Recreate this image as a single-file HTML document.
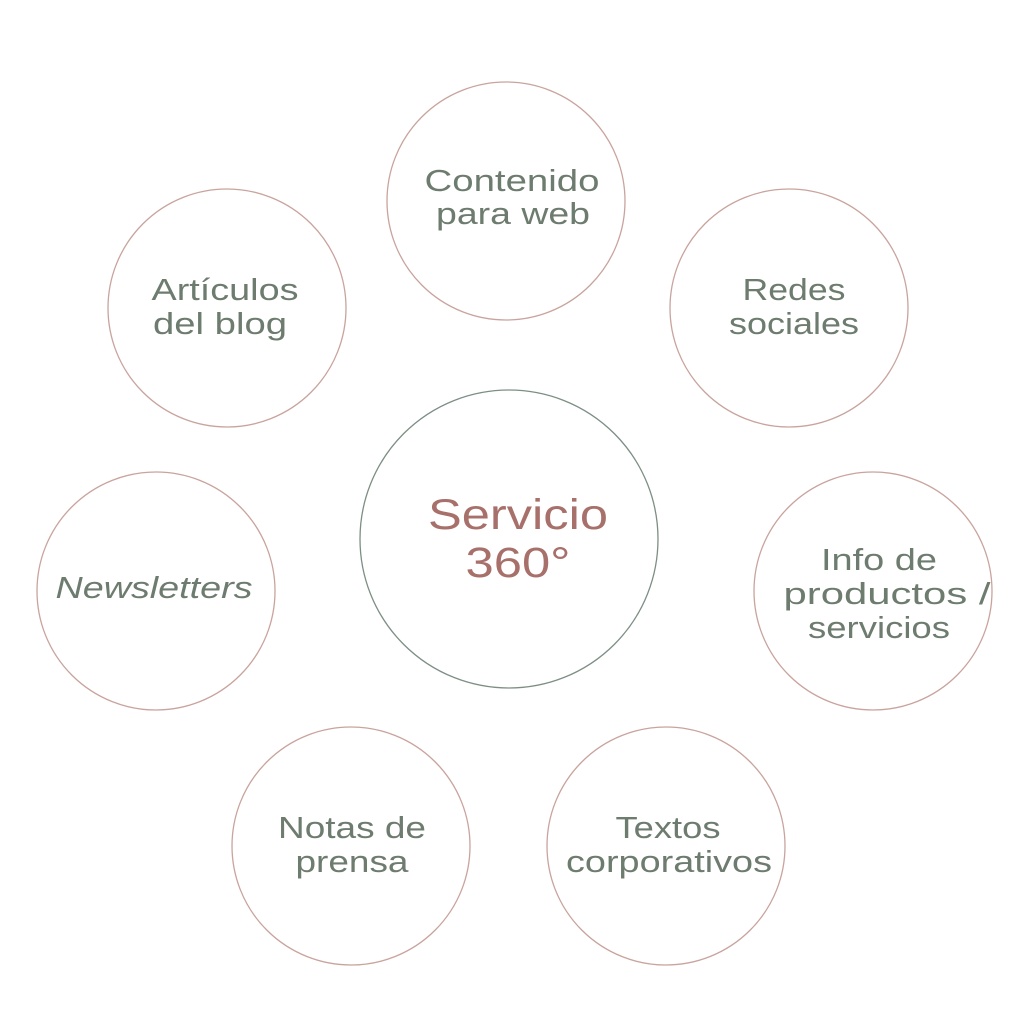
<!DOCTYPE html>
<html><head><meta charset="utf-8"><style>
html,body{margin:0;padding:0;background:#fff;}
svg{display:block;}
text{font-family:"Liberation Sans",sans-serif;fill:#6d7c6f;text-anchor:middle;font-size:31px;}
</style></head><body>
<svg width="1024" height="1024" viewBox="0 0 1024 1024">
<g fill="none" stroke="#c9a39d" stroke-width="1.3">
<circle cx="506" cy="201" r="119"/>
<circle cx="227" cy="308" r="119"/>
<circle cx="789" cy="308" r="119"/>
<circle cx="156" cy="591" r="119"/>
<circle cx="873" cy="591" r="119"/>
<circle cx="351" cy="846" r="119"/>
<circle cx="666" cy="846" r="119"/>
</g>
<circle cx="509" cy="539" r="149" fill="none" stroke="#7d8f84" stroke-width="1.3"/>
<g lengthAdjust="spacingAndGlyphs">
<text x="518" y="529" textLength="180" lengthAdjust="spacingAndGlyphs" style="font-size:43px;fill:#a8706a">Servicio</text>
<text x="518" y="577" textLength="105" lengthAdjust="spacingAndGlyphs" style="font-size:43px;fill:#a8706a">360°</text>
<text x="512" y="191" textLength="175" lengthAdjust="spacingAndGlyphs">Contenido</text>
<text x="513" y="224" textLength="154" lengthAdjust="spacingAndGlyphs">para web</text>
<text x="225" y="300" textLength="147" lengthAdjust="spacingAndGlyphs">Artículos</text>
<text x="220" y="334" textLength="134" lengthAdjust="spacingAndGlyphs">del blog</text>
<text x="794" y="300" textLength="103" lengthAdjust="spacingAndGlyphs">Redes</text>
<text x="794" y="334" textLength="130" lengthAdjust="spacingAndGlyphs">sociales</text>
<text x="154" y="598" textLength="197" lengthAdjust="spacingAndGlyphs" style="font-style:italic">Newsletters</text>
<text x="879" y="570" textLength="116" lengthAdjust="spacingAndGlyphs">Info de</text>
<text x="887" y="604" textLength="207" lengthAdjust="spacingAndGlyphs">productos /</text>
<text x="879" y="638" textLength="142" lengthAdjust="spacingAndGlyphs">servicios</text>
<text x="352" y="838" textLength="148" lengthAdjust="spacingAndGlyphs">Notas de</text>
<text x="352" y="872" textLength="113" lengthAdjust="spacingAndGlyphs">prensa</text>
<text x="668" y="838" textLength="105" lengthAdjust="spacingAndGlyphs">Textos</text>
<text x="669" y="872" textLength="206" lengthAdjust="spacingAndGlyphs">corporativos</text>
</g>
</svg>
</body></html>
